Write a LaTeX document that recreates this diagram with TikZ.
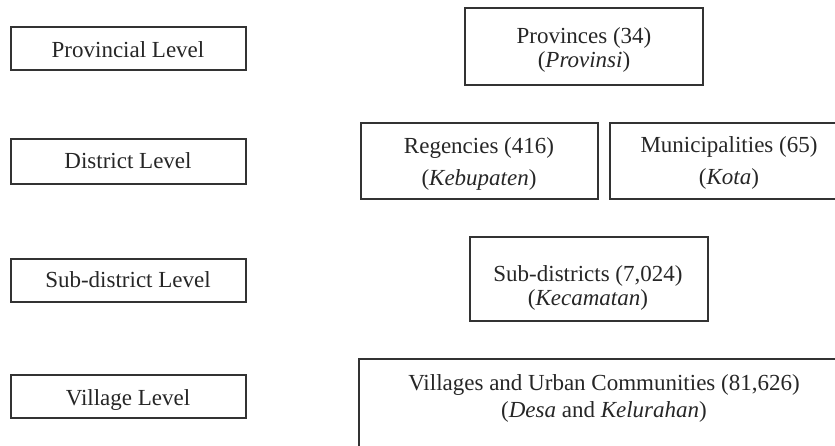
\documentclass[tikz,border=0pt]{standalone}
\usepackage{fontspec}
\setmainfont{Liberation Serif}
\begin{document}
\begin{tikzpicture}[x=1pt,y=-1pt,
  box/.style={draw=black!80, line width=1.6pt},
  txt/.style={anchor=base, inner sep=0pt, text=black!85, font=\fontsize{23}{24}\selectfont}]
\useasboundingbox (0,0) rectangle (835,445);
\clip (0,0) rectangle (835,445);
% left level boxes
\draw[box] (11,27) rectangle (246,70);
\draw[box] (11,139) rectangle (246,184);
\draw[box] (11,259) rectangle (246,302);
\draw[box] (11,375) rectangle (246,418);
\node[txt] (lp) at (128,57) {Provincial Level};
\node[txt] (ld) at (128,168) {District Level};
\node[txt] (ls) at (128,287) {Sub-district Level};
\node[txt] (lv) at (128,405) {Village Level};
% right unit boxes
\draw[box] (465,8) rectangle (703,85);
\draw[box] (361,123) rectangle (598,199);
\draw[box] (610,123) rectangle (850,199);
\draw[box] (470,237) rectangle (708,321);
\draw[box] (359,359) rectangle (850,455);
\node[txt] (p1) at (584,43) {Provinces (34)};
\node[txt] (p2) at (584,67) {(\textit{Provinsi})};
\node[txt] (r1) at (479,153) {Regencies (416)};
\node[txt] (r2) at (479,185) {(\textit{Kebupaten})};
\node[txt] (m1) at (729,152) {Municipalities (65)};
\node[txt] (m2) at (729,184) {(\textit{Kota})};
\node[txt] (s1) at (588,281) {Sub-districts (7,024)};
\node[txt] (s2) at (588,305) {(\textit{Kecamatan})};
\node[txt] (v1) at (604,390) {Villages and Urban Communities (81,626)};
\node[txt] (v2) at (604,417) {(\textit{Desa} and \textit{Kelurahan})};
\end{tikzpicture}
\end{document}
